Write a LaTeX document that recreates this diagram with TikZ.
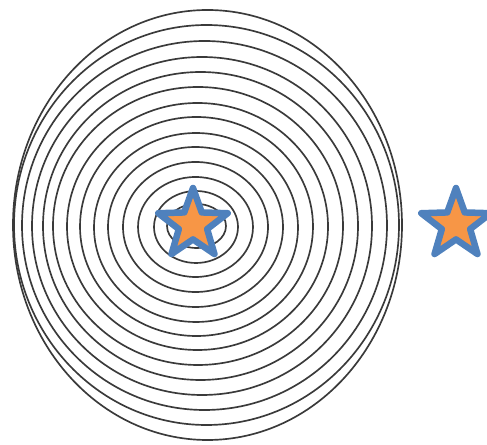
\documentclass[tikz,border=0pt]{standalone}
\usepackage{tikz}
\usetikzlibrary{shapes.geometric}
\usepackage{xcolor}

\definecolor{ringgray}{HTML}{3A3A3A}
\definecolor{starfill}{HTML}{F79646}
\definecolor{starline}{HTML}{4F81BD}

\tikzset{
  ring/.style={draw=ringgray, line width=0.95pt},
  starmark/.style={star, star points=5, star point ratio=2.45, minimum size=1.46cm,
    inner sep=0pt, fill=starfill, draw=starline, line width=3.7pt, line join=round}
}

\begin{document}
\begin{tikzpicture}[x=0.02cm, y=-0.02cm]
  \useasboundingbox (0,0) rectangle (487,445);

  %% Rings, inner to outer (left sides bunch up on the far left)
  \draw[ring] (196.5,226.0) ellipse [x radius=29.5,  y radius=22.0];
  \draw[ring] (196.0,227.0) ellipse [x radius=42.0,  y radius=36.0];
  \draw[ring] (195.5,227.0) ellipse [x radius=57.5,  y radius=50.0];
  \draw[ring] (195.5,227.0) ellipse [x radius=72.5,  y radius=65.0];
  \draw[ring] (195.5,227.0) ellipse [x radius=87.5,  y radius=80.0];
  \draw[ring] (196.0,227.5) ellipse [x radius=102.0, y radius=94.5];
  \draw[ring] (196.5,226.5) ellipse [x radius=116.5, y radius=109.5];
  \draw[ring] (197.5,226.5) ellipse [x radius=130.5, y radius=123.5];
  \draw[ring] (198.0,226.0) ellipse [x radius=145.0, y radius=139.0];
  \draw[ring] (200.5,226.0) ellipse [x radius=157.5, y radius=154.0];
  \draw[ring] (202.0,226.0) ellipse [x radius=170.0, y radius=169.0];
  \draw[ring] (204.5,225.5) ellipse [x radius=182.5, y radius=184.5];
  \draw[ring] (206.5,225.0) ellipse [x radius=192.5, y radius=200.0];
  \draw[ring] (207.5,225.0) ellipse [x radius=194.5, y radius=215.0];

  %% Stars
  \node[starmark] (source) at (193,224.5) {};
  \node[starmark] (target) at (456,224.5) {};
\end{tikzpicture}
\end{document}
